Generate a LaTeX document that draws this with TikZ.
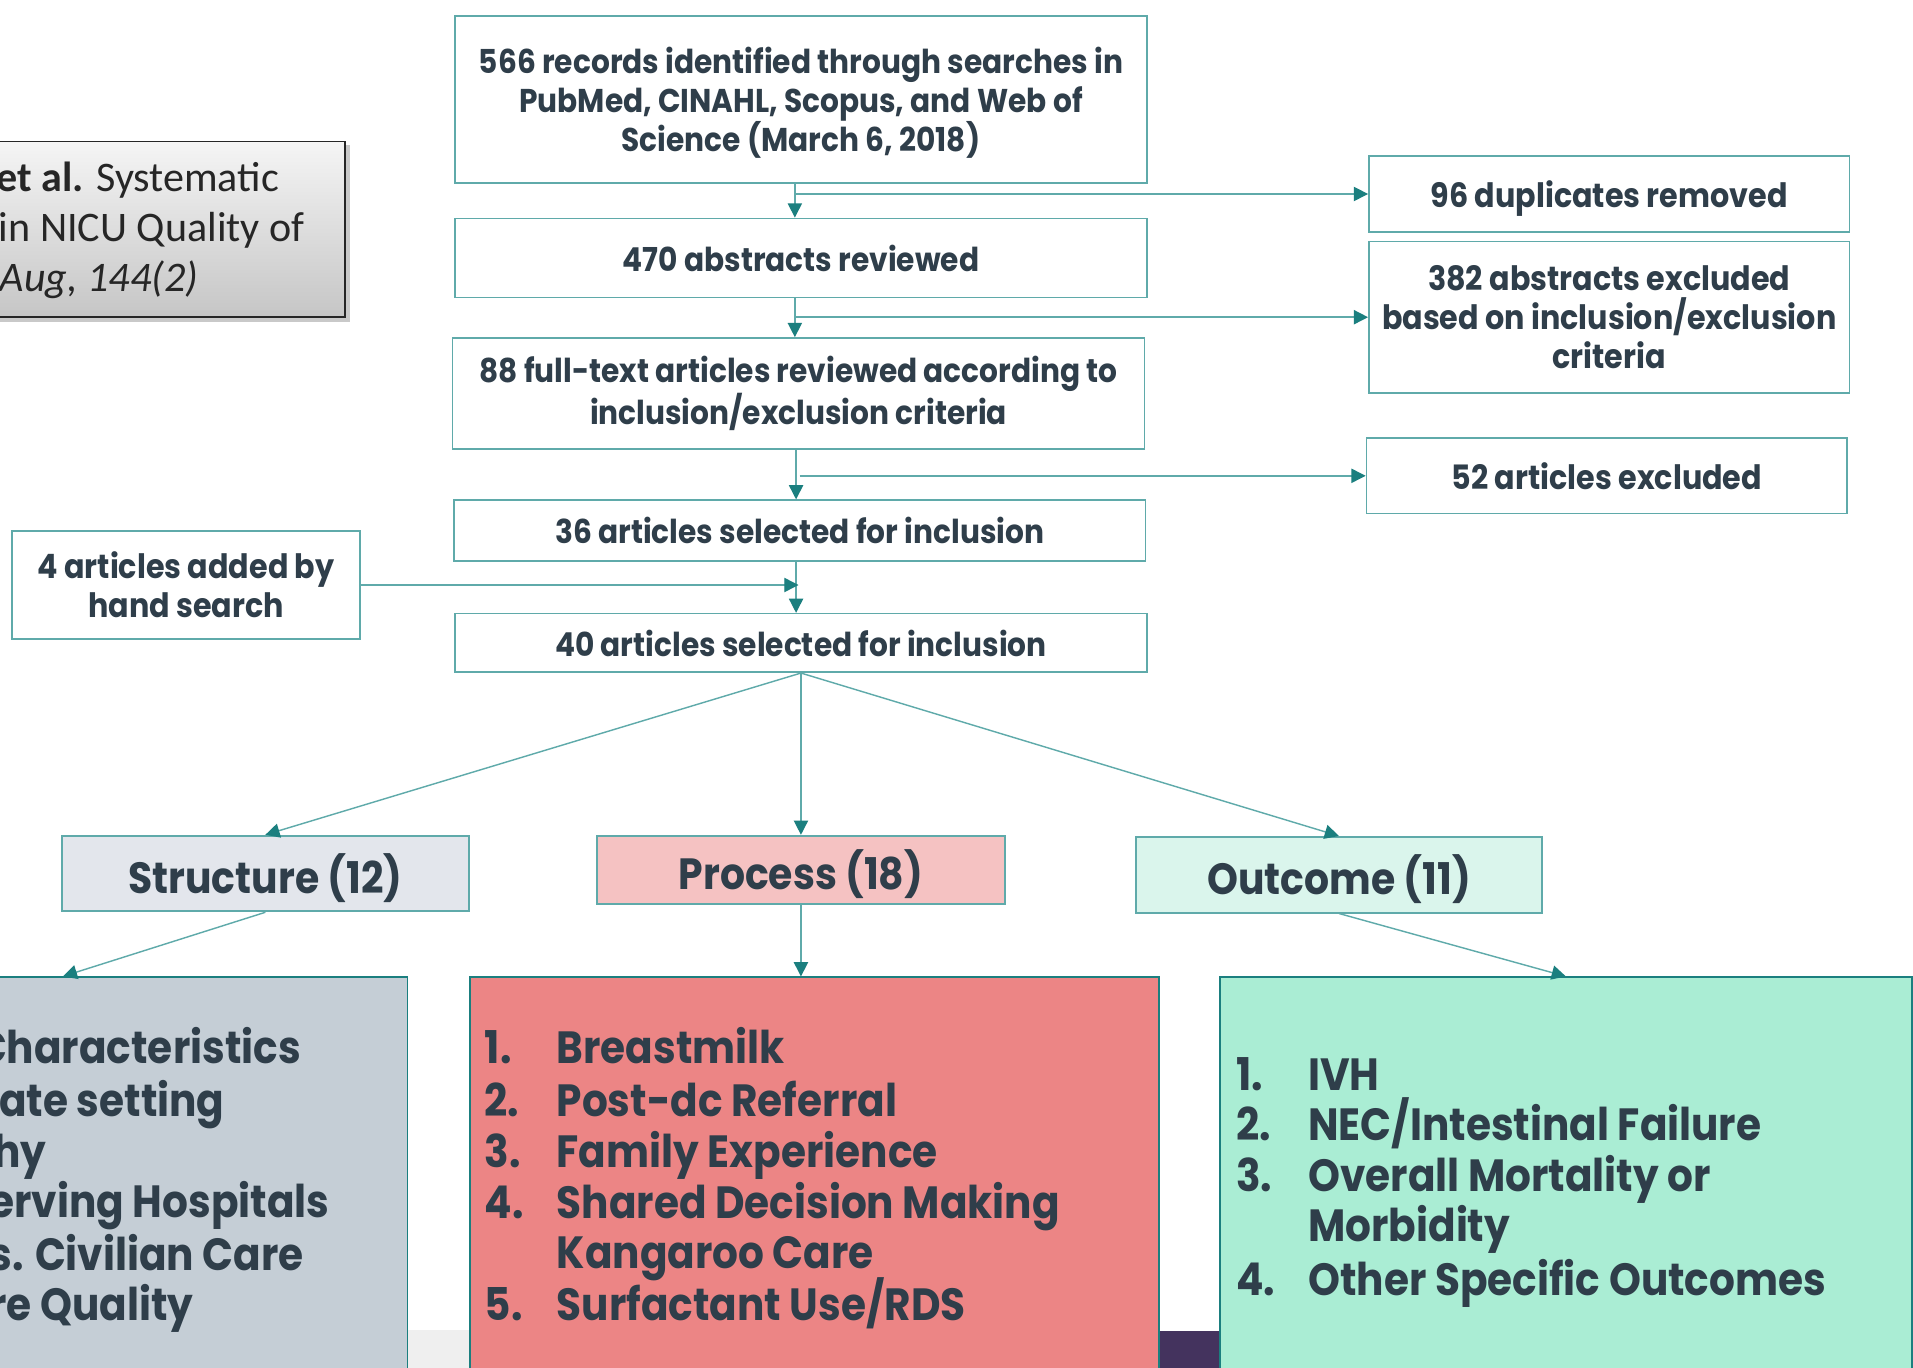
\documentclass[tikz,border=0pt]{standalone}
\usepackage{fontspec}
\setmainfont{Poppins}[FakeStretch=0.9]
\newfontfamily\calfont{Carlito}
\usetikzlibrary{arrows.meta,calc}
\definecolor{txt}{HTML}{2F3E4A}
\definecolor{edge}{HTML}{5FAAAA}
\definecolor{tipc}{HTML}{1B7F7F}
\definecolor{structhead}{HTML}{E3E6EC}
\definecolor{structfill}{HTML}{C5CED6}
\definecolor{prochead}{HTML}{F5C2C2}
\definecolor{procfill}{HTML}{EC8585}
\definecolor{outchead}{HTML}{DAF5EC}
\definecolor{outcfill}{HTML}{AAEDD4}
\definecolor{purplestrip}{HTML}{44335E}
\definecolor{graystrip}{HTML}{EFEFEF}
\tikzset{
  flow/.style={draw=edge, line width=0.8pt, fill=white, inner sep=0pt, align=center,
    font=\fontsize{16.2}{19.2}\selectfont\bfseries, text=txt},
  sideflow/.style={flow, font=\fontsize{16.5}{19.2}\selectfont\bfseries},
  head/.style={draw=edge, line width=0.9pt, inner sep=0pt, align=center,
    font=\fontsize{21.5}{24}\selectfont\bfseries, text=txt, text depth=0pt,
    minimum width=200pt},
  listbox/.style={draw=tipc, line width=0.8pt, inner sep=0pt, minimum height=203.4pt},
  item/.style={anchor=base west, inner sep=0pt, font=\fontsize{22.2}{25}\selectfont\bfseries, text=txt},
  arr/.style={draw=edge, line width=0.7pt, -{Triangle[length=7pt,width=7pt,color=tipc]}},
  citetxt/.style={anchor=base east, inner sep=0pt, font=\calfont\fontsize{20.7}{24}\selectfont, text=black!85}
}
\begin{document}
\begin{tikzpicture}[x=0.6pt,y=-0.6pt]
\useasboundingbox (0,0) rectangle (1568,1121);
\clip (0,0) rectangle (1568,1121);
\fill[white] (0,0) rectangle (1568,1121);

% bottom strips
\fill[graystrip] (300,1090) rectangle (951,1130);
\fill[purplestrip] (951,1091) rectangle (1005,1130);

% citation box
\fill[black!35, opacity=0.6] (-97,119) rectangle (287,264);
\node[draw=black!85, line width=0.8pt, top color=gray!8, bottom color=gray!45,
  minimum width=229.8pt, minimum height=86.4pt, inner sep=0pt] (cite) at (91.5,188) {};
\node[citetxt] (c1) at (229,157) {\textbf{et al.} Systematic};
\node[citetxt] (c2) at (250,198) {in NICU Quality of};
\node[citetxt] (c3) at (163,239) {\textit{Aug, 144(2)}};

% flow boxes
\node[flow, minimum width=340.2pt, minimum height=82.2pt, text depth=0pt] (top) at (656.5,81.5)
  {566 records identified through searches in\\PubMed, CINAHL, Scopus, and Web of\\Science (March 6, 2018)};
\node[sideflow, minimum width=236.4pt, minimum height=37.2pt, text depth=0pt] (dup) at (1319,159)
  {96 duplicates removed};
\node[flow, minimum width=340.2pt, minimum height=39pt] (abs) at (656.5,211.5)
  {470 abstracts reviewed};
\node[sideflow, minimum width=236.4pt, minimum height=74.4pt] (excl) at (1319,260)
  {382 abstracts excluded\\based on inclusion/exclusion\\criteria};
\node[flow, minimum width=340.2pt, minimum height=54.6pt] (full) at (654.5,322.5)
  {88 full-text articles reviewed according to\\inclusion/exclusion criteria};
\node[sideflow, minimum width=236.4pt, minimum height=37.2pt] (art52) at (1317,390)
  {52 articles excluded};
\node[flow, minimum width=340.2pt, minimum height=30pt] (sel36) at (655.5,435)
  {36 articles selected for inclusion};
\node[sideflow, minimum width=171pt, minimum height=53.4pt] (hand) at (152.5,479.5)
  {4 articles added by\\hand search};
\node[flow, minimum width=340.2pt, minimum height=28.8pt] (sel40) at (656.5,527)
  {40 articles selected for inclusion};

% category headers
\node[head, fill=structhead, minimum height=37.2pt] (struct) at (217.5,716) {Structure (12)};
\node[head, fill=prochead, minimum height=33.6pt, minimum width=201pt] (proc) at (656.5,713) {Process (18)};
\node[head, fill=outchead, minimum height=37.2pt] (outc) at (1097.5,717) {Outcome (11)};

% list boxes
\node[listbox, fill=structfill, minimum width=339pt] (structlist) at (51.5,970.5) {};
\node[listbox, fill=procfill, minimum width=339pt] (proclist) at (667.5,970.5) {};
\node[listbox, fill=outcfill, minimum width=340.2pt] (outclist) at (1283.5,970.5) {};

% structure items (cut at left edge, as in the source)
\node[item] (s1) at (-20,872) {Characteristics};
\node[item] (s2) at (-1,915) {ate setting};
\node[item] (s3) at (-6,957) {hy};
\node[item] (s4) at (-9,998) {erving Hospitals};
\node[item] (s5) at (-9,1041) {s. Civilian Care};
\node[item] (s6) at (-9,1082) {re Quality};

% process items
\node[item] (pn1) at (397,872) {1.};
\node[item] (p1) at (456,872) {Breastmilk};
\node[item] (pn2) at (397,915) {2.};
\node[item] (p2) at (456,915) {Post-dc Referral};
\node[item] (pn3) at (397,957) {3.};
\node[item] (p3) at (456,957) {Family Experience};
\node[item] (pn4) at (397,999) {4.};
\node[item] (p4) at (456,999) {Shared Decision Making};
\node[item] (p4b) at (456,1040) {Kangaroo Care};
\node[item] (pn5) at (397,1082) {5.};
\node[item] (p5) at (456,1082) {Surfactant Use/RDS};

% outcome items
\node[item] (on1) at (1013,894) {1.};
\node[item] (o1) at (1072,894) {IVH};
\node[item] (on2) at (1013,935) {2.};
\node[item] (o2) at (1072,935) {NEC/Intestinal Failure};
\node[item] (on3) at (1013,977) {3.};
\node[item] (o3) at (1072,977) {Overall Mortality or};
\node[item] (o3b) at (1072,1018) {Morbidity};
\node[item] (on4) at (1013,1062) {4.};
\node[item] (o4) at (1072,1062) {Other Specific Outcomes};

% connector junctions
\coordinate (j1) at ($(top.south)+(-5,0)$);
\coordinate (j2) at ($(abs.south)+(-5,0)$);
\coordinate (j3) at ($(full.south)+(-2,0)$);
\coordinate (j3b) at ($(full.south)+(1,0)$);
\coordinate (j4) at ($(sel36.south)+(-3,0)$);
\coordinate (j4b) at ($(sel36.south)+(-1,0)$);

% connectors
\draw[arr] (j1) -- (j1 |- abs.north);
\draw[arr] (j1 |- dup.west) -- (dup.west);
\draw[arr] (j2) -- (j2 |- full.north);
\draw[arr] (j2 |- excl.west) -- (excl.west);
\draw[arr] (j3) -- (j3 |- sel36.north);
\draw[arr] (j3b |- art52.west) -- (art52.west);
\draw[arr] (j4) -- (j4 |- sel40.north);
\draw[arr] (hand.east) -- (j4b |- hand.east);
\draw[arr] (sel40.south) -- (struct.north);
\draw[arr] (sel40.south) -- (proc.north);
\draw[arr] (sel40.south) -- (outc.north);
\draw[arr] (struct.south) -- (structlist.north);
\draw[arr] (proc.south) -- (proc.south |- proclist.north);
\draw[arr] (outc.south) -- (outclist.north);
\end{tikzpicture}
\end{document}
